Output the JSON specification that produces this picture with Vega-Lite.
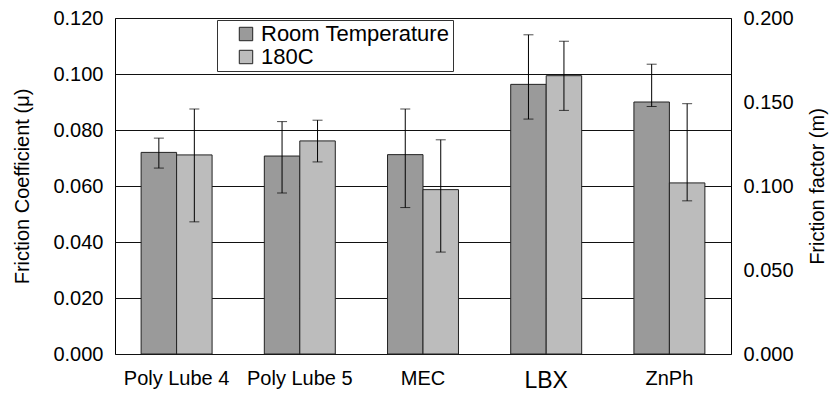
{
  "$schema": "https://vega.github.io/schema/vega-lite/v6.json",
  "width": 616,
  "height": 336,
  "autosize": "none",
  "padding": {"left": 115, "top": 18, "right": 100, "bottom": 40},
  "background": "white",
  "config": {
    "font": "Liberation Sans",
    "view": {"stroke": "black", "strokeWidth": 1},
    "axis": {"labelColor": "black", "titleColor": "black", "titleFontWeight": "normal", "labelFont": "Liberation Sans", "titleFont": "Liberation Sans"}
  },
  "data": {
    "values": [
      {"lube": "Poly Lube 4", "cond": "Room Temperature", "mu": 0.0720, "lo": 0.0664, "hi": 0.0771},
      {"lube": "Poly Lube 4", "cond": "180C", "mu": 0.0711, "lo": 0.0472, "hi": 0.0875},
      {"lube": "Poly Lube 5", "cond": "Room Temperature", "mu": 0.0707, "lo": 0.0575, "hi": 0.0830},
      {"lube": "Poly Lube 5", "cond": "180C", "mu": 0.0761, "lo": 0.0686, "hi": 0.0835},
      {"lube": "MEC", "cond": "Room Temperature", "mu": 0.0712, "lo": 0.0523, "hi": 0.0875},
      {"lube": "MEC", "cond": "180C", "mu": 0.0587, "lo": 0.0364, "hi": 0.0765},
      {"lube": "LBX", "cond": "Room Temperature", "mu": 0.0963, "lo": 0.0839, "hi": 0.1140},
      {"lube": "LBX", "cond": "180C", "mu": 0.0994, "lo": 0.0870, "hi": 0.1117},
      {"lube": "ZnPh", "cond": "Room Temperature", "mu": 0.0900, "lo": 0.0884, "hi": 0.1035},
      {"lube": "ZnPh", "cond": "180C", "mu": 0.0611, "lo": 0.0547, "hi": 0.0894}
    ]
  },
  "encoding": {
    "x": {
      "field": "lube", "type": "nominal", "sort": null,
      "scale": {"paddingInner": 0.424, "paddingOuter": 0.212},
      "axis": {
        "title": null, "labelAngle": 0, "ticks": false, "domain": false,
        "labelFontSize": {"condition": {"test": "datum.value == 'LBX'", "value": 23}, "value": 20},
        "labelPadding": {"condition": {"test": "datum.value == 'LBX'", "value": 15}, "value": 14}
      }
    },
    "xOffset": {"field": "cond", "type": "nominal", "sort": ["Room Temperature", "180C"], "scale": {"paddingInner": 0, "paddingOuter": 0}}
  },
  "layer": [
    {
      "mark": {"type": "bar", "stroke": "#222222", "strokeWidth": 1},
      "encoding": {
        "y": {
          "field": "mu", "type": "quantitative",
          "scale": {"domain": [0, 0.12], "nice": false},
          "axis": {
            "title": "Friction Coefficient (μ)", "titleFontSize": 20, "titlePadding": 20,
            "values": [0, 0.02, 0.04, 0.06, 0.08, 0.1, 0.12], "format": ".3f",
            "labelFontSize": 20, "labelPadding": 12, "ticks": false, "domain": false,
            "grid": true, "gridColor": "#111111", "gridOpacity": 1, "gridWidth": 1
          }
        },
        "fill": {
          "field": "cond", "type": "nominal",
          "scale": {"domain": ["Room Temperature", "180C"], "range": ["#9a9a9a", "#bcbcbc"]},
          "legend": {
            "title": null, "orient": "none", "legendX": 102, "legendY": 2,
            "direction": "vertical", "symbolType": "square", "symbolSize": 180, "symbolOffset": 15,
            "symbolStrokeColor": "#222222", "symbolStrokeWidth": 1, "symbolOpacity": 1,
            "labelFontSize": 22, "labelColor": "black", "labelFont": "Liberation Sans", "labelLimit": 0,
            "strokeColor": "#333333", "padding": 3, "rowPadding": 1, "labelOffset": 4,
            "fillColor": "white"
          }
        }
      }
    },
    {
      "mark": {"type": "rule", "color": "black", "strokeWidth": 1},
      "encoding": {
        "y": {"field": "lo", "type": "quantitative", "axis": null},
        "y2": {"field": "hi"}
      }
    },
    {
      "mark": {"type": "tick", "color": "black", "thickness": 1, "size": 10},
      "encoding": {"y": {"field": "lo", "type": "quantitative", "axis": null}}
    },
    {
      "mark": {"type": "tick", "color": "black", "thickness": 1, "size": 10},
      "encoding": {
        "y": {
          "field": "hi", "type": "quantitative",
          "axis": {
            "orient": "right", "title": "Friction factor (m)", "titleFontSize": 20, "titleAngle": -90,
            "titlePadding": 34, "values": [0, 0.03, 0.06, 0.09, 0.12],
            "labelExpr": "format(datum.value * 5 / 3, '.3f')",
            "labelFontSize": 20, "labelPadding": 12, "ticks": false, "domain": false, "grid": false
          }
        }
      }
    }
  ],
  "resolve": {"axis": {"y": "independent"}}
}
